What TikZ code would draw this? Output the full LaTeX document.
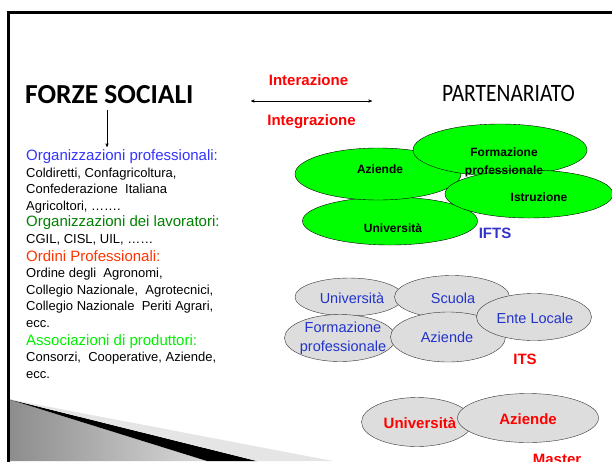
\documentclass[tikz,border=0pt]{standalone}
\usepackage{fontspec}
\setmainfont{Liberation Sans}
\newfontfamily\titlefont{Carlito}
\newfontfamily\narrowfont[FakeStretch=0.86]{Carlito}
\usepackage{tikz}
\usetikzlibrary{shapes.geometric}
\usetikzlibrary{arrows}
\definecolor{orgblue}{RGB}{51,51,255}
\definecolor{lavgreen}{RGB}{0,128,0}
\definecolor{ordred}{RGB}{255,51,0}
\definecolor{assgreen}{RGB}{0,240,0}
\definecolor{iftsgreen}{RGB}{0,255,0}
\definecolor{iftsblue}{RGB}{51,51,204}
\definecolor{itsgray}{RGB}{221,221,221}
\definecolor{itsblue}{RGB}{34,51,204}
\newcommand{\heading}[2]{{\color{#1}\fontsize{15}{16.5}\selectfont #2}}
\tikzset{x=1pt, y=-1pt, % One unit is one pixel of the slide
every edge/.style={ % Sets the properties for each arrow
        draw,
        ->,>=stealth',
        thin
    },
group/.style={ % Left column of text, placed at the baseline of its last line
        anchor=base west,
        align=left,
        inner sep=0pt,
        font=\fontsize{13}{16.5}\selectfont
    },
ifts/.style={ellipse, draw, fill=iftsgreen, inner sep=0pt},
its/.style={ellipse, draw=black!80, fill=itsgray, inner sep=0pt},
inlabel/.style={anchor=base, align=center, inner sep=0pt},
iftstext/.style={inlabel, font=\bfseries\fontsize{12}{18}\selectfont},
itstext/.style={inlabel, text=itsblue, font=\fontsize{14.5}{19}\selectfont},
mastertext/.style={inlabel, text=red, font=\bfseries\fontsize{15}{18}\selectfont},
redlabel/.style={anchor=base, inner sep=0pt, text=red, font=\bfseries\fontsize{15}{18}\selectfont}
}

\begin{document}
\begin{tikzpicture}
\useasboundingbox (0,0) rectangle (612,461);
% slide decoration
\shade[left color=black!45, right color=black!15] (8,399) -- (207,461) -- (8,461) -- cycle;
\fill[black] (8,399) -- (257,461) -- (207,461) -- cycle;
\fill[black!10] (8,399) -- (333,461) -- (257,461) -- cycle;
\draw[line width=2.5pt] (8.5,12.5) rectangle (700,520);
%%%%%%%%%%%%%%%%%%%%%%%%%%%%%%%%%%
\node [anchor=base west,inner sep=0pt,font=\titlefont\bfseries\fontsize{27.5}{30}\selectfont] (forze) at (25,103) {FORZE SOCIALI};
\node [anchor=base west,inner sep=0pt,font=\narrowfont\fontsize{25}{30}\selectfont] (partner) at (442,101) {PARTENARIATO};
\node [redlabel] (interaz) at (308.5,85.7) {Interazione};
\node [redlabel] (integraz) at (311.5,125) {Integrazione};
\coordinate (down1) at (107,110);
\coordinate (down2) at (107,147);
\coordinate (left1) at (251,101);
\coordinate (right1) at (372,101);

\node [group] (orgprof) at (26,210) {\heading{orgblue}{Organizzazioni professionali:}\\
    Coldiretti, Confagricoltura,\\
    Confederazione\ \ Italiana\\
    Agricoltori, …….};
\node [group] (orglav) at (26,243) {\heading{lavgreen}{Organizzazioni dei lavoratori:}\\
    CGIL, CISL, UIL, ……};
\node [group] (ordini) at (26,327) {\heading{ordred}{Ordini Professionali:}\\
    Ordine degli\ \ Agronomi,\\
    Collegio Nazionale,\ \ Agrotecnici,\\
    Collegio Nazionale\ \ Periti Agrari,\\
    ecc.};
\node [group] (assoc) at (26,378) {\heading{assgreen}{Associazioni di produttori:}\\
    Consorzi,\ \ Cooperative, Aziende,\\
    ecc.};

\draw
    (down1) edge (down2)
    (left1) edge[<->] (right1);
%%%%%%%%%%%%%%%%%%%%%%%%%%%%%%%%%%
\node [ifts,minimum width=175,minimum height=48] (univ1) at (390,221) {};
\node [ifts,minimum width=166,minimum height=52] (azi1) at (378,174) {};
\node [ifts,minimum width=174,minimum height=52] (form1) at (500,150) {};
\node [ifts,minimum width=168,minimum height=48] (istr1) at (529,194) {};
\node [iftstext] (tuniv1) at (393,232.3) {Università};
\node [iftstext] (tazi1) at (380,173.3) {Aziende};
\node [iftstext] (tform1) at (504,174.3) {Formazione\\professionale};
\node [iftstext] (tistr1) at (539,201.3) {Istruzione};
\node [redlabel,text=iftsblue] (ifts) at (495,238.5) {IFTS};
%%%%%%%%%%%%%%%%%%%%%%%%%%%%%%%%%%
\node [its,minimum width=108,minimum height=38] (univ2) at (349,297) {};
\node [its,minimum width=115,minimum height=43] (scuola) at (452,297) {};
\node [its,minimum width=111,minimum height=47] (form2) at (340,338) {};
\node [its,minimum width=115,minimum height=50] (azi2) at (448,337) {};
\node [its,minimum width=115,minimum height=47] (ente) at (534,317) {};
\node [itstext] (tuniv2) at (352,303) {Università};
\node [itstext] (tscuola) at (453,303) {Scuola};
\node [itstext] (tform2) at (343,351) {Formazione\\professionale};
\node [itstext] (tazi2) at (447,342) {Aziende};
\node [itstext] (tente) at (535,323) {Ente Locale};
\node [redlabel] (its) at (525,364.5) {ITS};
%%%%%%%%%%%%%%%%%%%%%%%%%%%%%%%%%%
\node [its,minimum width=111,minimum height=49] (univ3) at (417,422) {};
\node [its,minimum width=141,minimum height=49] (azi3) at (528,418) {};
\node [mastertext] (tuniv3) at (420,428.4) {Università};
\node [mastertext] (tazi3) at (528,424.4) {Aziende};
\node [redlabel] (master) at (557,464) {Master};
\end{tikzpicture}
\end{document}
